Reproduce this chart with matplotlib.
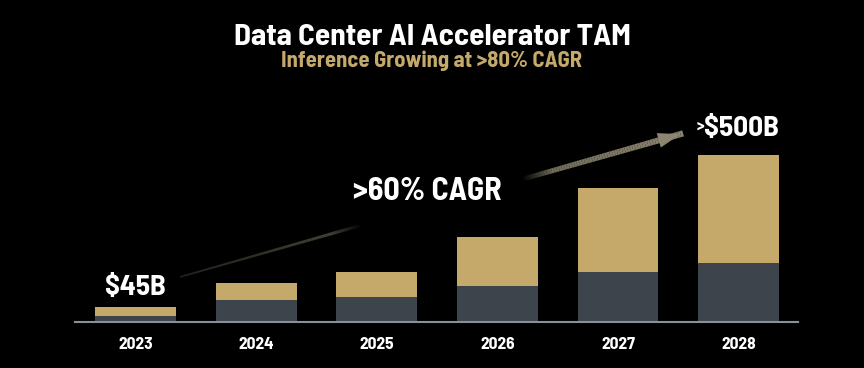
import matplotlib.pyplot as plt
import numpy as np
from matplotlib.collections import LineCollection

years = ['2023', '2024', '2025', '2026', '2027', '2028']
training = [19, 66, 75, 108, 150, 177]
inference = [26, 51, 75, 147, 252, 323]
totals = [t + i for t, i in zip(training, inference)]

dark = '#3e444b'
tan = '#c4a96b'
plt.rcParams['font.family'] = ['Barlow Semi Condensed', 'DejaVu Sans']
plt.rcParams['font.weight'] = 'bold'

fig = plt.figure(figsize=(8.64, 3.68), dpi=100, facecolor='black')
ax = fig.add_axes([75/864, 46/368, 723/864, 222/368])
ax.set_facecolor('black')

x = np.arange(len(years))
ax.bar(x, training, width=0.67, color=dark)
ax.bar(x, inference, width=0.67, bottom=training, color=tan)

ax.set_xlim(-0.502, 5.493)
ax.set_ylim(0, 665)
for s in ['top', 'right', 'left']:
    ax.spines[s].set_visible(False)
ax.spines['bottom'].set_color('#8a9099')
ax.spines['bottom'].set_linewidth(1.5)
ax.set_yticks([])
ax.set_xticks(x)
ax.set_xticklabels(years, color='white', fontsize=12.5, fontweight='bold')
ax.tick_params(axis='x', length=0, pad=11)

# growth arrow, fading in from left, with a gap for the CAGR label
x0, y0 = 0.37, totals[0] * 3.0
x1, y1 = 4.54, totals[-1] * 1.13
n = 200
t = np.linspace(0, 1, n)
xs = x0 + (x1 - x0) * t
ys = y0 + (y1 - y0) * t
pts = np.column_stack([xs, ys]).reshape(-1, 1, 2)
segs = np.concatenate([pts[:-1], pts[1:]], axis=1)
tm = (t[:-1] + t[1:]) / 2
gap_a, gap_b = 0.36, 0.68
fade = np.clip(np.minimum(np.abs(tm - gap_a), np.abs(tm - gap_b)) / 0.06, 0, 1)
fade[(tm > gap_a) & (tm < gap_b)] = 0
alpha = (0.25 + 0.75 * tm) * fade
cols = [(0.55, 0.52, 0.44, a) for a in alpha]
lc = LineCollection(segs, colors=cols, linewidths=1.2 + 3.3 * tm, capstyle='butt', clip_on=False)
ax.add_collection(lc)
ax.annotate('', xy=(x1, y1), xytext=(x1 - 0.15, y1 - 0.15 * (y1 - y0) / (x1 - x0)),
            arrowprops=dict(arrowstyle='-|>,head_length=0.9,head_width=0.3', color='#8c8572',
                            mutation_scale=18, lw=0),
            annotation_clip=False)

ax.annotate('>60% CAGR', xy=((x0 + x1) / 2, (y0 + y1) / 2), xytext=(-3, 10),
            textcoords='offset points', ha='center', va='center', color='white',
            fontsize=23, fontweight='bold')

ax.annotate('$45B', xy=(0, totals[0]), xytext=(0, 14), textcoords='offset points',
            ha='center', va='center', color='white', fontsize=21, fontweight='bold')
big = ax.annotate('$500B', xy=(5, totals[-1]), xytext=(2, 19), textcoords='offset points',
                  ha='center', va='center', color='white', fontsize=21, fontweight='bold')
ax.annotate('>', xy=(0, 0.6), xycoords=big, ha='right', va='center',
            color='white', fontsize=12, fontweight='bold')

fig.text(0.5, 0.878, 'Data Center AI Accelerator TAM', ha='center', va='baseline',
         color='white', fontsize=22.5, fontweight='bold')
fig.text(0.5, 0.818, 'Inference Growing at >80% CAGR', ha='center', va='baseline',
         color=tan, fontsize=16.3, fontweight='bold')

fig.savefig('out.png', dpi=100, facecolor='black')
